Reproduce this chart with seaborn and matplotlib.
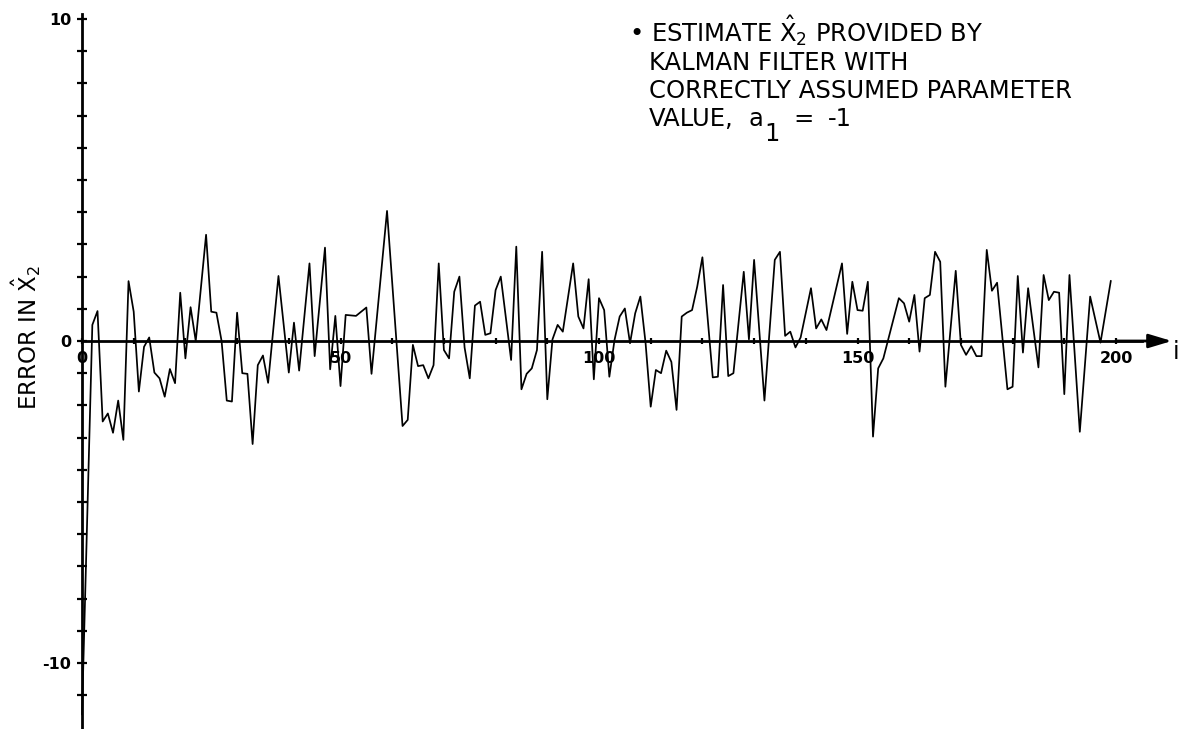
import matplotlib
matplotlib.use("Agg")
import matplotlib.pyplot as plt
import seaborn as sns
import pandas as pd

# Kalman filter estimation error for the second state, per time step i
steps = [0, 2, 3, 4, 5, 6, 7, 8, 9, 10, 11, 12, 13, 14, 15, 16, 17, 18, 19, 20,
         21, 22, 23, 24, 25, 26, 27, 28, 29, 30, 31, 32, 33, 34, 35, 36, 38, 40, 41, 42,
         44, 45, 47, 48, 49, 50, 51, 53, 55, 56, 59, 62, 63, 64, 65, 66, 67, 68, 69, 70,
         71, 72, 73, 74, 75, 76, 77, 78, 79, 80, 81, 83, 84, 85, 86, 87, 88, 89, 90, 91,
         92, 93, 95, 96, 97, 98, 99, 100, 101, 102, 103, 104, 105, 106, 107, 108, 109, 110, 111, 112,
         113, 114, 115, 116, 117, 118, 119, 120, 122, 123, 124, 125, 126, 128, 129, 130, 132, 134, 135, 136,
         137, 138, 139, 141, 142, 143, 144, 147, 148, 149, 150, 151, 152, 153, 154, 155, 158, 159, 160, 161,
         162, 163, 164, 165, 166, 167, 169, 170, 171, 172, 173, 174, 175, 176, 177, 179, 180, 181, 182, 183,
         185, 186, 187, 188, 189, 190, 191, 193, 195, 197, 199]
errors = [-11.6, 0.5, 0.93, -2.5, -2.25, -2.85, -1.85, -3.07, 1.86, 0.91, -1.57, -0.18, 0.11, -0.98, -1.16, -1.73, -0.87, -1.31, 1.5, -0.54,
          1.05, 0.0, 1.64, 3.3, 0.91, 0.88, 0.0, -1.85, -1.88, 0.88, -1.0, -1.02, -3.2, -0.75, -0.45, -1.3, 2.02, -0.98, 0.57, -0.92,
          2.41, -0.47, 2.9, -0.88, 0.78, -1.4, 0.81, 0.78, 1.04, -1.02, 4.04, -2.64, -2.45, -0.12, -0.78, -0.75, -1.16, -0.75, 2.41, -0.28,
          -0.54, 1.53, 2.0, -0.2, -1.16, 1.1, 1.22, 0.19, 0.24, 1.58, 2.0, -0.59, 2.93, -1.5, -1.02, -0.85, -0.28, 2.77, -1.81, 0.05,
          0.5, 0.29, 2.41, 0.76, 0.39, 1.92, -1.19, 1.33, 0.96, -1.11, 0.03, 0.76, 1.01, -0.07, 0.86, 1.38, -0.05, -2.04, -0.9, -1.0,
          -0.3, -0.65, -2.14, 0.76, 0.88, 0.96, 1.69, 2.6, -1.13, -1.11, 1.74, -1.09, -1.0, 2.15, 0.05, 2.52, -1.85, 2.52, 2.77, 0.16,
          0.29, -0.2, 0.11, 1.64, 0.39, 0.67, 0.34, 2.41, 0.22, 1.84, 0.96, 0.94, 1.84, -2.97, -0.85, -0.54, 1.33, 1.17, 0.6, 1.43,
          -0.33, 1.33, 1.43, 2.77, 2.46, -1.42, 2.18, -0.12, -0.43, -0.16, -0.47, -0.47, 2.83, 1.56, 1.81, -1.5, -1.42, 2.02, -0.36, 1.64,
          -0.82, 2.05, 1.27, 1.53, 1.5, -1.65, 2.05, -2.82, 1.38, -0.05, 1.87]

x_tick_values = list(range(0, 201, 10))
x_tick_labels = ["0", "50", "100", "150", "200"]
y_tick_values = list(range(-11, 11))
y_tick_labels = {10: "10", 0: "0", -10: "-10"}

note_lines = [
    r"• ESTIMATE $\mathrm{\hat{X}_2}$ PROVIDED BY",
    "KALMAN FILTER WITH",
    "CORRECTLY ASSUMED PARAMETER",
]
# last note line is set in pieces so the subscript can sit low and large
note_last = [("VALUE,", 649, 126), ("a", 748, 126), ("1", 764, 141), ("=", 793, 126), ("-1", 828, 126)]
y_label = r"ERROR IN $\mathrm{\hat{X}_2}$"

sns.set_style("white")
family = "DejaVu Sans"
plt.rcParams["font.family"] = [family]
plt.rcParams["mathtext.fontset"] = "custom"
plt.rcParams["mathtext.rm"] = family
plt.rcParams["mathtext.it"] = family
plt.rcParams["text.color"] = "black"
plt.rcParams["axes.labelcolor"] = "black"
plt.rcParams["xtick.color"] = "black"
plt.rcParams["ytick.color"] = "black"
plt.rcParams["axes.edgecolor"] = "black"

W, H = 1182, 729
fig = plt.figure(figsize=(W / 100, H / 100), dpi=100)
ax = fig.add_axes([0, 0, 1, 1])

# pixel geometry of the plotting frame
x0_px, x_scale = 82.0, 5.17      # i = 0 position and px per step
y0_px, y_scale = 341.0, 32.2     # zero line position and px per unit
ax.set_xlim(-x0_px / x_scale, (W - x0_px) / x_scale)
ax.set_ylim(-(H - y0_px) / y_scale, y0_px / y_scale)

df = pd.DataFrame({"i": steps, "error": errors})
sns.lineplot(data=df, x="i", y="error", ax=ax, color="black", linewidth=1.25,
             estimator=None, sort=False)

# axes through the origin
for side in ("top", "right"):
    ax.spines[side].set_visible(False)
ax.spines["left"].set_position(("data", 0))
ax.spines["bottom"].set_position(("data", 0))
ax.spines["left"].set_linewidth(2.0)
ax.spines["bottom"].set_linewidth(2.0)
ax.spines["left"].set_color("black")
ax.spines["bottom"].set_color("black")
ax.spines["left"].set_bounds(-(H - y0_px) / y_scale, 10.15)
ax.spines["bottom"].set_bounds(0, 205)
ax.annotate("", xy=(210.8, 0), xytext=(200, 0),
            arrowprops=dict(arrowstyle="-|>,head_length=1.0,head_width=0.3",
                            mutation_scale=14, color="black", lw=2.0,
                            shrinkA=0, shrinkB=0))

ax.set_xticks(x_tick_values)
ax.set_xticklabels([x_tick_labels[v // 50] if v % 50 == 0 else "" for v in x_tick_values])
ax.set_yticks(y_tick_values)
ax.set_yticklabels([y_tick_labels.get(v, "") for v in y_tick_values])
ax.tick_params(axis="y", direction="inout", length=7.5, width=1.6, pad=4,
               labelsize=11.5, left=True, colors="black")
ax.tick_params(axis="x", direction="inout", length=4.5, width=1.6, pad=5,
               labelsize=11.5, bottom=True, colors="black")
for lab in ax.get_xticklabels() + ax.get_yticklabels():
    lab.set_fontweight("bold")

ax.set_xlabel("")
ax.set_ylabel(y_label, fontsize=16.5, labelpad=0, color="black")
ax.yaxis.set_label_coords(43 / W, 1 - 338 / H)

ax.text(1 - 3 / W, 1 - 352 / H, "i", fontsize=17, ha="right", va="center",
        transform=ax.transAxes, color="black")

baselines = [42, 70, 98]
lefts = [629, 649, 649]
for txt, yb, xl in zip(note_lines, baselines, lefts):
    ax.text(xl / W, 1 - yb / H, txt, fontsize=17.5, ha="left", va="baseline",
            transform=ax.transAxes, color="black")
for txt, xl, yb in note_last:
    ax.text(xl / W, 1 - yb / H, txt, fontsize=17.5, ha="left", va="baseline",
            transform=ax.transAxes, color="black")

fig.savefig("out.png", dpi=100)
